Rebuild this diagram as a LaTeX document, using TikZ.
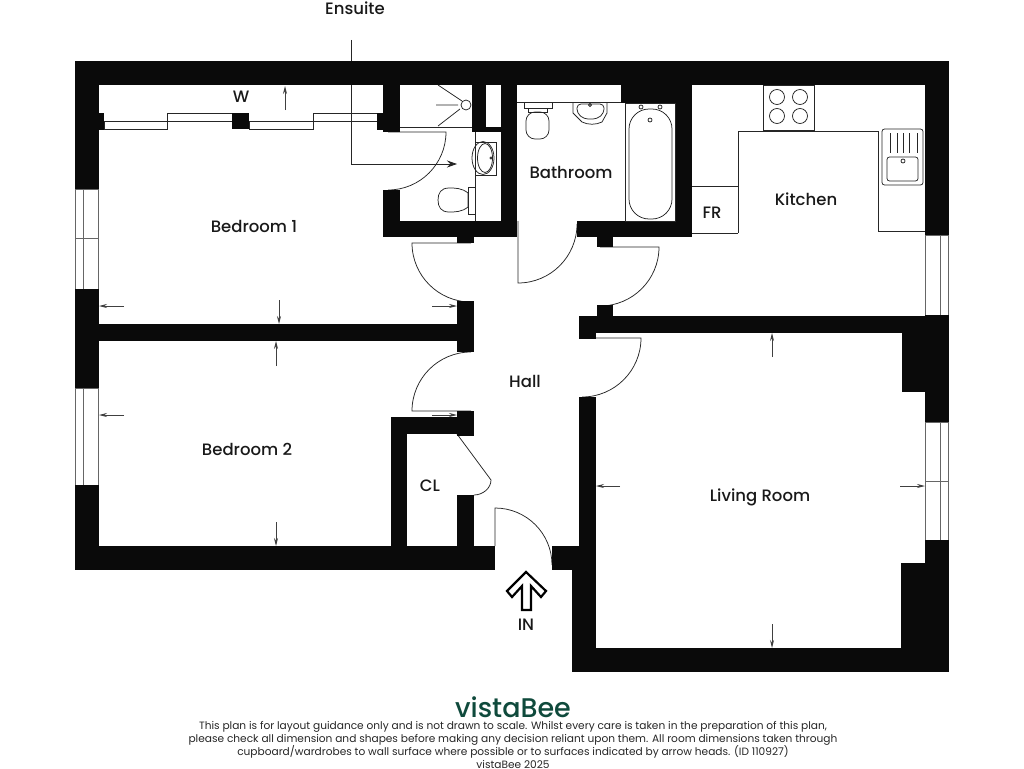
\documentclass[tikz,border=0pt]{standalone}
\usepackage{fontspec}
\setmainfont{Poppins Medium}
\newfontfamily\notefont{Poppins}
\usetikzlibrary{arrows.meta}
\definecolor{wallblack}{HTML}{0A0A0A}
\definecolor{beegreen}{HTML}{0F4A3C}
\tikzset{
    wall/.style={fill=wallblack, draw=none},
    fixture/.style={draw=black!85, line width=0.75pt},
    pane/.style={draw=black!60, line width=0.9pt, fill=white},
    dimen/.style={draw=black!75, line width=0.8pt, -{Stealth[length=8pt,width=4pt]}},
    room/.style={font=\fontsize{16.5}{18}\selectfont, text=black!90, inner sep=0pt},
}
\begin{document}
\begin{tikzpicture}[x=1pt, y=1pt, yscale=-1]
    \useasboundingbox (0,0) rectangle (1024,768);

    % ensuite pointer
    \coordinate (ensuitetop) at (351,40);
    \coordinate (ensuitebend) at (351,164);
    \coordinate (ensuiteend) at (457,164);
    \draw[draw=black!85, line width=0.8pt, -{Stealth[length=10pt,width=7pt]}] (ensuitetop) -- (ensuitebend) -- (ensuiteend);

    % doors
    \begin{scope}[fixture]
        \draw (388,132) -- (446,132) arc[start angle=0, end angle=90, radius=58];
        \draw (518,221) -- (518,283) arc[start angle=90, end angle=0, radius=59];
        \draw (600,247) -- (659,247) arc[start angle=0, end angle=90, radius=59];
        \draw (582,338) -- (641,338) arc[start angle=0, end angle=90, radius=59];
        \draw (471,243) -- (412,243) arc[start angle=180, end angle=90, radius=59];
        \draw (471,411) -- (412,411) arc[start angle=180, end angle=270, radius=59];
        \draw (457,434) -- (491,480) .. controls (491,488) and (483,495) .. (474,495);
        \draw (495,546) -- (495,508) arc[start angle=270, end angle=360, radius=57];
    \end{scope}

    % windows
    \foreach \xa/\xb/\ya/\yb in {75/98/189/289, 75/98/388/485, 925/948/235/315, 925/948/422/540}
        \draw[pane] (\xa,\ya) rectangle (\xb,\yb);
    \draw[pane] (83,189) -- (83,289) (75,238) -- (98,238) (83,388) -- (83,485);
    \draw[pane] (940,235) -- (940,315) (940,422) -- (940,540) (925,481) -- (948,481);

    % wardrobe sliders
    \begin{scope}[fixture]
        \draw (104,121) rectangle (167,129);
        \draw (167,113) rectangle (232,121);
        \draw (249,121) rectangle (313,129);
        \draw (313,113) rectangle (377,121);
    \end{scope}

    % walls
    \foreach \xa/\ya/\xb/\yb in {
        75/61/949/85, 75/85/99/189, 75/289/99/388, 75/485/99/570, 75/546/495/570,
        99/113/104/130, 232/113/249/129, 377/113/383/130, 383/85/400/132,
        472/85/486/132, 486/127/501/132, 501/85/517/237, 383/190/400/237, 383/221/517/237,
        457/237/474/243, 457/301/474/352, 99/324/457/341,
        457/411/474/436, 391/417/474/434, 391/417/407/546, 457/495/474/546,
        621/85/692/103, 675/85/692/237, 577/221/692/237, 597/237/613/247,
        597/305/613/316, 579/316/925/333, 579/316/596/339, 579/397/596/570,
        552/546/596/570, 572/546/596/672, 572/648/949/672,
        925/85/949/235, 925/315/949/422, 902/333/925/392, 925/540/949/672, 901/563/925/648}
        \fill[wall] (\xa,\ya) rectangle (\xb,\yb);

    % ensuite fittings
    \begin{scope}[fixture]
        \draw (400,127) -- (472,127);
        \draw (438,85) -- (462,101) (436,105) -- (458,105) (438,126) -- (460,109);
        \draw (466,105) circle (5);
        \draw (475,132) -- (475,221);
        \draw (475,142) rectangle (496,175);
        \draw (483,158) ellipse (11 and 16.5);
        \draw (485,158) ellipse (7.5 and 14.5);
        \draw (491,158) circle (1.2);
        \draw (468,187) rectangle (475,214);
        \draw (468,193) .. controls (462,188) and (455,188) .. (449,188) .. controls (441,188) and (438,193) .. (438,200)
            .. controls (438,207) and (441,212) .. (449,212) .. controls (455,212) and (462,212) .. (468,207) -- cycle;
    \end{scope}

    % bathroom fittings
    \begin{scope}[fixture]
        \draw (517,102) -- (621,102);
        \draw (625,103) rectangle (675,221);
        \draw[rounded corners=20] (629,109) rectangle (672,219);
        \draw (641,107) circle (2) (660,107) circle (2) (650,120) circle (2);
        \draw (524,102) rectangle (552,108);
        \draw (528,108) rectangle (547,112);
        \draw[rounded corners=9] (526,112) -- (526,139) -- (549,139) -- (549,112) -- cycle;
        \draw (573,102) -- (573,113) -- (582,122) .. controls (588,125) and (596,125) .. (602,122) -- (607,113) -- (607,102);
        \draw[rounded corners=4] (577,104) -- (577,113) -- (584,119) -- (597,119) -- (604,113) -- (604,104) -- cycle;
        \draw (590,105) circle (1.5);
    \end{scope}

    % kitchen units
    \begin{scope}[fixture]
        \draw (692,186) -- (738,186) (692,233) -- (738,233);
        \draw (738,233) -- (738,131) -- (878,131) -- (878,231) -- (925,231);
        \draw (763,85) rectangle (814,130);
        \foreach \cx in {777,800}
            \foreach \cy in {97,116}
                \draw (\cx,\cy) circle (7.5);
        \draw[rounded corners=2.5] (882,129) rectangle (923,185);
        \draw[rounded corners=2.5] (887,157) rectangle (918,181);
        \foreach \cx in {890,897,903,909,917}
            \draw (\cx,133) -- (\cx,153);
        \draw (903,161) circle (2);
    \end{scope}

    % measuring arrows
    \foreach \xa/\ya/\xb/\yb in {
        285/110/285/86, 124/306/99/306, 432/306/457/306, 279/300/279/324,
        276/366/276/341, 124/415/99/415, 432/415/457/415, 276/522/276/546,
        772/357/772/333, 620/486/596/486, 900/486/925/486, 772/624/772/648}
        \draw[dimen] (\xa,\ya) -- (\xb,\yb);

    % way in
    \draw[black, line width=2.2pt, line join=miter] (526,572) -- (546,591) -- (541,597) -- (531,586)
        -- (531,610) -- (522,610) -- (522,586) -- (512,597) -- (507,591) -- cycle;

    % labels
    \begin{scope}[every node/.style={room}]
        \node (ensuite) at (355,8) {Ensuite};
        \node (wardrobe) at (241,97) {W};
        \node (bedroom1) at (254,226) {Bedroom 1};
        \node (bathroom) at (571,172) {Bathroom};
        \node (kitchen) at (806,199) {Kitchen};
        \node (fridge) at (712,213) {FR};
        \node (hall) at (525,381) {Hall};
        \node (bedroom2) at (247,449) {Bedroom 2};
        \node (cupboard) at (430,486) {CL};
        \node (living) at (760,497) {Living Room};
        \node (way) at (526,625) {IN};
    \end{scope}

    \node[font=\fontsize{27}{30}\selectfont, text=beegreen, inner sep=0pt] (logo) at (513,707) {vistaBee};
    \node[font=\notefont\fontsize{10.6}{12.2}\selectfont, text=black!85, align=center, inner sep=0pt, anchor=north] (notes) at (513,721.5)
        {This plan is for layout guidance only and is not drawn to scale. Whilst every care is taken in the preparation of this plan,\\
        please check all dimension and shapes before making any decision reliant upon them. All room dimensions taken through\\
        cupboard/wardrobes to wall surface where possible or to surfaces indicated by arrow heads. (ID 110927)\\
        vistaBee 2025};
\end{tikzpicture}
\end{document}
